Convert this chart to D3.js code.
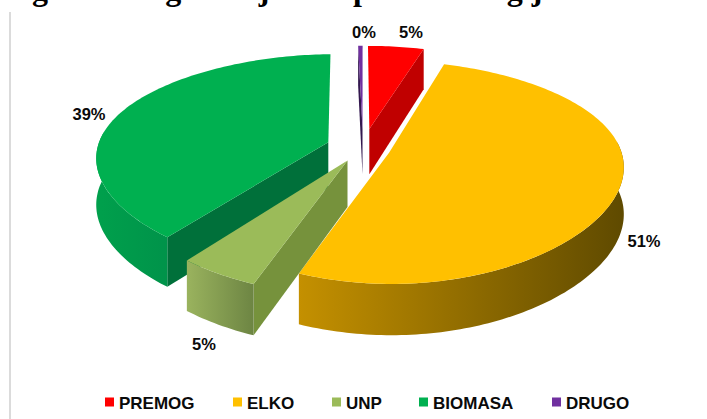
<!DOCTYPE html>
<html>
<head>
<meta charset="utf-8">
<script src="https://cdn.jsdelivr.net/npm/d3@7"></script>
<style>
  html, body { margin: 0; padding: 0; background: #fff; overflow: hidden; }
  svg { display: block; }
  text { font-family: "Liberation Sans", Arial, sans-serif; font-weight: bold; fill: #0a0a0a; }
  .title { font-family: "Liberation Serif", "Times New Roman", serif; font-size: 32px; fill: #000; }
</style>
</head>
<body>
<svg id="chart" width="707" height="419"></svg>
<script>
const categories = ['PREMOG', 'ELKO', 'UNP', 'BIOMASA', 'DRUGO'];
const shares = [5, 51, 5, 38.6, 0.4];
const shareLabels = ['5%', '51%', '5%', '39%', '0%'];
const topColors = ['#ff0000', '#ffc000', '#9bbb59', '#00b050', '#7030a0'];
const wallColors = ['#c00000', '#bf9000', '#76923c', '#00703a', '#33184f'];
const rimStart = ['#c00000', '#c49000', '#9ab35e', '#00a04c', '#33184f'];
const rimEnd = ['#900000', '#5f4a00', '#6d8543', '#00934a', '#33184f'];

const svg = d3.select('#chart');
const defs = svg.append('defs');

// perspective of the disc, fitted by eye
const cx = 363, cy = 148, rx = 231, ry = 110, depth = 46;
const pull = [0.18, 0.12, 0.13, 0.16, 0.18];

function project(x, z, down) {
  let sx = 1 - 0.139 * z - 0.05 * z * z;
  let sy = 1 - 0.18 * z;
  let h = down ? depth * (1 - 0.11 * z) : 0;
  return [cx + rx * x * sx, cy - ry * z * sy + h];
}

let slices = d3.pie().sort(null).value(d => d)(shares);
slices.forEach((d, i) => {
  let mid = (d.startAngle + d.endAngle) / 2;
  d.ox = pull[i] * Math.sin(mid);
  d.oz = pull[i] * Math.cos(mid);
});

function rimPoint(d, a, down) {
  return project(d.ox + Math.sin(a), d.oz + Math.cos(a), down);
}

function arcAngles(a0, a1) {
  let n = Math.max(2, Math.ceil((a1 - a0) / 0.02));
  return d3.range(n + 1).map(k => a0 + (a1 - a0) * k / n);
}

let line = d3.line().curve(d3.curveLinearClosed);

// back slices first, the yellow and the UNP wedge lie over them
let order = [0, 4, 3, 1, 2];

order.forEach(i => {
  let d = slices[i];
  let g = svg.append('g').attr('class', 'slice');
  let apex = project(d.ox, d.oz, false);
  let apexDown = project(d.ox, d.oz, true);

  // cut faces
  [d.startAngle, d.endAngle].forEach((a, k) => {
    let sin = Math.sin(a);
    let visible = k === 0 ? sin < -0.001 : sin > 0.001;
    if (!visible) return;
    g.append('path')
     .attr('d', line([apex, rimPoint(d, a, false), rimPoint(d, a, true), apexDown]))
     .attr('fill', wallColors[i]);
  });

  // outer wall, only the part that faces us
  let a0 = Math.max(d.startAngle, Math.PI * 0.47);
  let a1 = Math.min(d.endAngle, Math.PI * 1.53);
  if (a1 > a0) {
    let angles = arcAngles(a0, a1);
    let upper = angles.map(a => rimPoint(d, a, false));
    let lower = angles.map(a => rimPoint(d, a, true)).reverse();
    let xs = upper.map(p => p[0]);
    defs.append('linearGradient')
        .attr('id', 'rim' + i)
        .attr('gradientUnits', 'userSpaceOnUse')
        .attr('x1', d3.min(xs)).attr('x2', d3.max(xs))
        .attr('y1', 0).attr('y2', 0)
        .selectAll('stop')
        .data([rimStart[i], rimEnd[i]])
        .join('stop')
        .attr('offset', (v, k) => k)
        .attr('stop-color', v => v);
    g.append('path')
     .attr('d', line(upper.concat(lower)))
     .attr('fill', `url(#rim${i})`);
  }

  // top face
  let top = arcAngles(d.startAngle, d.endAngle).map(a => rimPoint(d, a, false));
  g.append('path')
   .attr('d', line([apex].concat(top)))
   .attr('fill', topColors[i]);
});

// data labels
const labelSpots = [[411, 38], [644, 247], [204, 350], [89, 120], [364, 38]];
svg.selectAll('.share')
   .data(shareLabels)
   .join('text')
   .attr('class', 'share')
   .attr('x', (v, i) => labelSpots[i][0])
   .attr('y', (v, i) => labelSpots[i][1])
   .attr('text-anchor', 'middle')
   .style('font-size', '16.5px')
   .text(v => v);

// legend
const legendX = [105, 233, 332, 419, 552];
let legend = svg.selectAll('.legend')
                .data(categories)
                .join('g')
                .attr('class', 'legend')
                .attr('transform', (v, i) => `translate(${legendX[i]}, 397.5)`);
legend.append('rect')
      .attr('width', 9).attr('height', 9)
      .attr('fill', (v, i) => topColors[i]);
legend.append('text')
      .attr('x', 14).attr('y', 11)
      .style('font-size', '17px')
      .text(v => v);

// left edge of the chart frame
svg.append('line')
   .attr('x1', 10).attr('x2', 10)
   .attr('y1', 12).attr('y2', 419)
   .attr('stroke', '#cfcfcf').attr('stroke-width', 1.5);

// title is cut by the top of the picture, only the descenders show
svg.append('text')
   .attr('class', 'title')
   .attr('x', -49).attr('y', -0.5)
   .text('Raba goriv za ogrevanje in toplotne energije v občinah');
</script>
</body>
</html>
